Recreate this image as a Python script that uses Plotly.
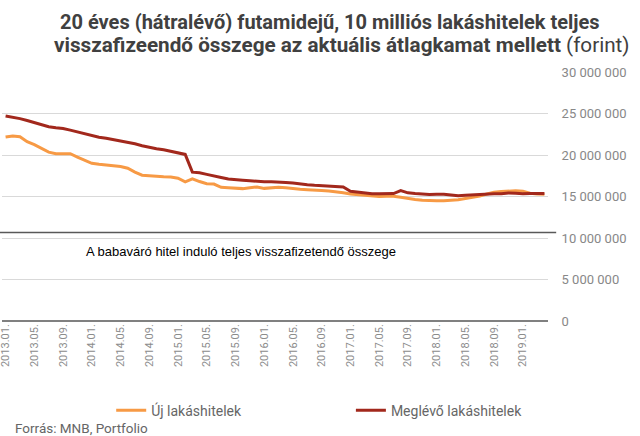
import plotly.graph_objects as go

months = [f"{y}.{m:02d}." for y in range(2013, 2020) for m in range(1, 13)][:76]
tick_labels = months[::4]

uj = [22.16, 22.3, 22.2, 21.6, 21.25, 20.75, 20.35, 20.15, 20.15, 20.15,
      19.75, 19.35, 19.0, 18.88, 18.78, 18.7, 18.62, 18.4, 17.93, 17.57,
      17.5, 17.38, 17.38, 17.36, 17.2, 16.77, 17.13, 16.8, 16.55, 16.5,
      16.1, 16.05, 15.97, 15.95, 16.05, 16.15, 15.98, 16.08, 16.1, 16.05,
      15.93, 15.87, 15.82, 15.8, 15.72, 15.65, 15.58, 15.45, 15.3, 15.24,
      15.1, 15.03, 15.0, 15.02, 15.02, 14.9, 14.75, 14.65, 14.55, 14.5,
      14.5, 14.5, 14.55, 14.6, 14.75, 14.88, 15.05, 15.3, 15.5, 15.6,
      15.68, 15.7, 15.63, 15.4, 15.3, 15.27]
meglevo = [24.7, 24.55, 24.38, 24.15, 23.88, 23.6, 23.4, 23.28, 23.2, 23.0,
           22.78, 22.5, 22.3, 22.15, 22.02, 21.85, 21.7, 21.58, 21.35, 21.12,
           20.92, 20.75, 20.62, 20.45, 20.3, 20.07, 17.93, 17.86, 17.67, 17.52,
           17.3, 17.1, 17.0, 16.97, 16.9, 16.82, 16.78, 16.77, 16.77, 16.7,
           16.62, 16.5, 16.42, 16.35, 16.3, 16.25, 16.2, 16.15, 15.64, 15.52,
           15.44, 15.34, 15.32, 15.34, 15.36, 15.72, 15.44, 15.35, 15.27, 15.24,
           15.26, 15.27, 15.18, 15.1, 15.15, 15.2, 15.28, 15.36, 15.34, 15.32,
           15.42, 15.38, 15.32, 15.36, 15.36, 15.36]
babavaro_value = 10.65  # million forint
y_ticks = [0, 5, 10, 15, 20, 25, 30]  # million

M = 1_000_000
fig = go.Figure()
fig.add_trace(go.Scatter(x=months, y=[v * M for v in uj], mode="lines",
                         name="Új lakáshitelek", legend="legend", showlegend=True,
                         line=dict(color="#F79A45", width=3)))
fig.add_trace(go.Scatter(x=months, y=[v * M for v in meglevo], mode="lines",
                         name="Meglévő lakáshitelek", legend="legend2", showlegend=True,
                         line=dict(color="#A2281C", width=3)))

fig.add_shape(type="line", xref="paper", yref="y", x0=-0.005, x1=1.015,
              y0=babavaro_value * M, y1=babavaro_value * M,
              line=dict(color="#595959", width=1.5), layer="above")
fig.add_annotation(text="A babaváró hitel induló teljes visszafizetendő összege",
                   xref="paper", yref="paper", x=0.438, y=0.28, yanchor="middle",
                   showarrow=False, font=dict(family="Liberation Sans", size=13, color="#000000"))
fig.add_annotation(text="Forrás: MNB, Portfolio", xref="paper", yref="paper",
                   x=0.02, y=-0.43, xanchor="left", yanchor="middle", showarrow=False,
                   font=dict(family="Roboto", size=13.5, color="#666666"))

fig.add_annotation(text="<b>20 éves (hátralévő) futamidejű, 10 milliós lakáshitelek teljes</b>",
                   xref="paper", yref="paper", x=0.6, y=1.2, xanchor="center", yanchor="middle",
                   showarrow=False,
                   font=dict(family="Liberation Sans Narrow, Roboto", size=20, color="#404040"))
fig.add_annotation(text="<b>visszafizeendő összege az aktuális átlagkamat mellett</b> (forint)",
                   xref="paper", yref="paper", x=0.623, y=1.108, xanchor="center", yanchor="middle",
                   showarrow=False,
                   font=dict(family="Liberation Sans Narrow, Roboto", size=20.7, color="#404040"))

legend_font = dict(family="Roboto", size=14, color="#666666")
fig.update_layout(
    width=640, height=436,
    margin=dict(l=2, r=92, t=72, b=115, autoexpand=False),
    paper_bgcolor="white", plot_bgcolor="white",
    separators=". ",
    showlegend=True,
    xaxis=dict(type="category", tickmode="array", tickvals=tick_labels, ticktext=tick_labels,
               tickangle=-90, tickfont=dict(family="Roboto", size=11, color="#8C8C8C"),
               showgrid=False, showline=False, ticks="", range=[-0.5, 75.5], automargin=False),
    yaxis=dict(side="right", range=[0, 30 * M], tickvals=[v * M for v in y_ticks],
               tickformat=",d", tickfont=dict(family="Roboto", size=13, color="#888888"),
               showgrid=True, gridcolor="#D9D9D9", gridwidth=1,
               zeroline=True, zerolinecolor="#808080", zerolinewidth=1.5,
               ticks="outside", ticklen=10, tickcolor="white", automargin=False),
    legend=dict(orientation="h", x=0.2, y=-0.36, xanchor="left", yanchor="middle",
                font=legend_font, bgcolor="rgba(0,0,0,0)", visible=True),
    legend2=dict(orientation="h", x=0.639, y=-0.36, xanchor="left", yanchor="middle",
                 font=legend_font, bgcolor="rgba(0,0,0,0)", visible=True),
)

fig.write_html("out.html", config={"displayModeBar": False},
               post_script="document.body.style.margin='0';document.body.style.padding='0';")
